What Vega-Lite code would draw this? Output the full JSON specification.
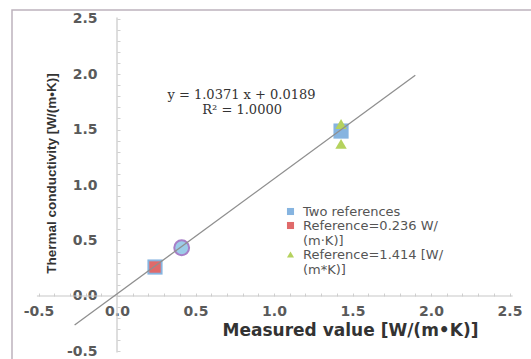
{
  "$schema": "https://vega.github.io/schema/vega-lite/v6.json",
  "width": 520,
  "height": 350,
  "autosize": "none",
  "padding": {"left": 12, "top": 10, "right": 0, "bottom": 0},
  "background": "white",
  "view": {"stroke": "#bdb3bd", "strokeWidth": 1.5},
  "config": {
    "legend": {
      "orient": "none",
      "legendX": 272,
      "legendY": 195,
      "title": null,
      "labelFont": "DejaVu Sans",
      "labelFontSize": 13,
      "labelColor": "#555555",
      "symbolSize": 50,
      "symbolStrokeWidth": 0,
      "rowPadding": -6,
      "labelOffset": 6
    }
  },
  "resolve": {"axis": {"x": "independent", "y": "independent"}},
  "layer": [
    {
      "data": {"values": [{"x1": -0.51, "x2": 2.52, "y": 0}]},
      "mark": {"type": "rule", "color": "#c8c8c8", "strokeWidth": 1.2},
      "encoding": {
        "x": {"field": "x1", "type": "quantitative", "scale": {"domain": [-0.6688, 2.6433], "nice": false, "zero": false},
          "axis": {"orient": "top", "offset": -286, "values": [-0.5,-0.4,-0.3,-0.2,-0.1,0,0.1,0.2,0.3,0.4,0.5,0.6,0.7,0.8,0.9,1,1.1,1.2,1.3,1.4,1.5,1.6,1.7,1.8,1.9,2,2.1,2.2,2.3,2.4,2.5], "labels": false, "domain": false, "grid": false, "ticks": true, "tickSize": 3, "tickColor": "#d0d0d0", "title": null}},
        "x2": {"field": "x2"},
        "y": {"field": "y", "type": "quantitative", "scale": {"domain": [-0.5766, 2.5766], "nice": false, "zero": false}, "axis": null}
      }
    },
    {
      "data": {"values": [{"x": 0, "y1": -0.51, "y2": 2.51}]},
      "mark": {"type": "rule", "color": "#c8c8c8", "strokeWidth": 1.2},
      "encoding": {
        "x": {"field": "x", "type": "quantitative", "axis": null},
        "y": {"field": "y1", "type": "quantitative",
          "axis": {"orient": "right", "offset": -415, "values": [-0.5,-0.4,-0.3,-0.2,-0.1,0,0.1,0.2,0.3,0.4,0.5,0.6,0.7,0.8,0.9,1,1.1,1.2,1.3,1.4,1.5,1.6,1.7,1.8,1.9,2,2.1,2.2,2.3,2.4,2.5], "labels": false, "domain": false, "grid": false, "ticks": true, "tickSize": 3, "tickColor": "#d0d0d0", "title": null}},
        "y2": {"field": "y2"}
      }
    },
    {
      "data": {"values": [
        {"x": 0.242, "y": 0.261, "series": "Two references"},
        {"x": 1.427, "y": 1.486, "series": "Two references"}
      ]},
      "mark": {"type": "point", "filled": true, "opacity": 1, "size": 230},
      "encoding": {
        "x": {"field": "x", "type": "quantitative",
          "axis": {"orient": "bottom", "offset": -64, "values": [-0.5, 0, 0.5, 1, 1.5, 2, 2.5], "labelExpr": "datum.value < 0 ? '-' + format(-datum.value, '.1f') : format(datum.value, '.1f')", "domain": false, "ticks": false, "grid": false, "labelPadding": 8, "labelFont": "DejaVu Sans", "labelFontWeight": "bold", "labelFontSize": 14, "labelColor": "#5a5a5a", "labelFlush": false, "labelOverlap": false,
            "title": "Measured value [W/(m•K)]", "titleFont": "DejaVu Sans", "titleFontSize": 17, "titleFontWeight": "bold", "titleColor": "#333333", "titleX": 338, "titleY": 34, "titleBaseline": "middle", "titleAlign": "center"}},
        "y": {"field": "y", "type": "quantitative",
          "axis": {"orient": "left", "offset": -105, "values": [-0.5, 0, 0.5, 1, 1.5, 2, 2.5], "labelExpr": "datum.value < 0 ? '-' + format(-datum.value, '.1f') : format(datum.value, '.1f')", "domain": false, "ticks": false, "grid": false, "labelPadding": 20, "labelFont": "DejaVu Sans", "labelFontWeight": "bold", "labelFontSize": 14, "labelColor": "#5a5a5a", "labelFlush": false, "labelOverlap": false,
            "title": "Thermal conductivity [W/(m•K)]", "titleFont": "Liberation Sans", "titleFontSize": 13.5, "titleFontWeight": "bold", "titleColor": "#333333", "titleX": -66, "titleY": 163, "titleBaseline": "middle", "titleAlign": "center", "titleAngle": -90}},
        "color": {"field": "series", "type": "nominal",
          "scale": {"domain": ["Two references", "Reference=0.236 W/|(m·K)]", "Reference=1.414 [W/|(m*K)]"], "range": ["#86b4e0", "#e06a6a", "#b5d25e"]},
          "legend": {"labelExpr": "split(datum.label, '|')"}},
        "shape": {"field": "series", "type": "nominal",
          "scale": {"domain": ["Two references", "Reference=0.236 W/|(m·K)]", "Reference=1.414 [W/|(m*K)]"], "range": ["square", "square", "triangle-up"]},
          "legend": {"labelExpr": "split(datum.label, '|')"}}
      }
    },
    {
      "data": {"values": [
        {"x": 0.242, "y": 0.261, "series": "Reference=0.236 W/|(m·K)]"},
        {"x": 1.427, "y": 1.55, "series": "Reference=1.414 [W/|(m*K)]"},
        {"x": 1.427, "y": 1.37, "series": "Reference=1.414 [W/|(m*K)]"}
      ]},
      "mark": {"type": "point", "filled": true, "opacity": 1, "size": 130},
      "encoding": {
        "x": {"field": "x", "type": "quantitative", "axis": null},
        "y": {"field": "y", "type": "quantitative", "axis": null},
        "color": {"field": "series", "type": "nominal"},
        "shape": {"field": "series", "type": "nominal"}
      }
    },
    {
      "data": {"values": [{"x": 0.412, "y": 0.435}]},
      "mark": {"type": "point", "shape": "circle", "filled": true, "fill": "#9ccbe8", "stroke": "#a77fc7", "strokeWidth": 2, "size": 220, "opacity": 1},
      "encoding": {
        "x": {"field": "x", "type": "quantitative", "axis": null},
        "y": {"field": "y", "type": "quantitative", "axis": null}
      }
    },
    {
      "data": {"values": [{"x": -0.27, "y": -0.261}, {"x": 1.9, "y": 1.989}]},
      "mark": {"type": "line", "color": "#8f8f8f", "strokeWidth": 1.3},
      "encoding": {
        "x": {"field": "x", "type": "quantitative", "axis": null},
        "y": {"field": "y", "type": "quantitative", "axis": null}
      }
    },
    {
      "data": {"values": [
        {"label": "y = 1.0371 x + 0.0189", "x": 0.793, "y": 1.81},
        {"label": "R² = 1.0000", "x": 0.797, "y": 1.675}
      ]},
      "mark": {"type": "text", "font": "DejaVu Serif", "fontSize": 13, "color": "#333333", "align": "center", "baseline": "middle"},
      "encoding": {
        "x": {"field": "x", "type": "quantitative", "axis": null},
        "y": {"field": "y", "type": "quantitative", "axis": null},
        "text": {"field": "label"}
      }
    }
  ]
}
